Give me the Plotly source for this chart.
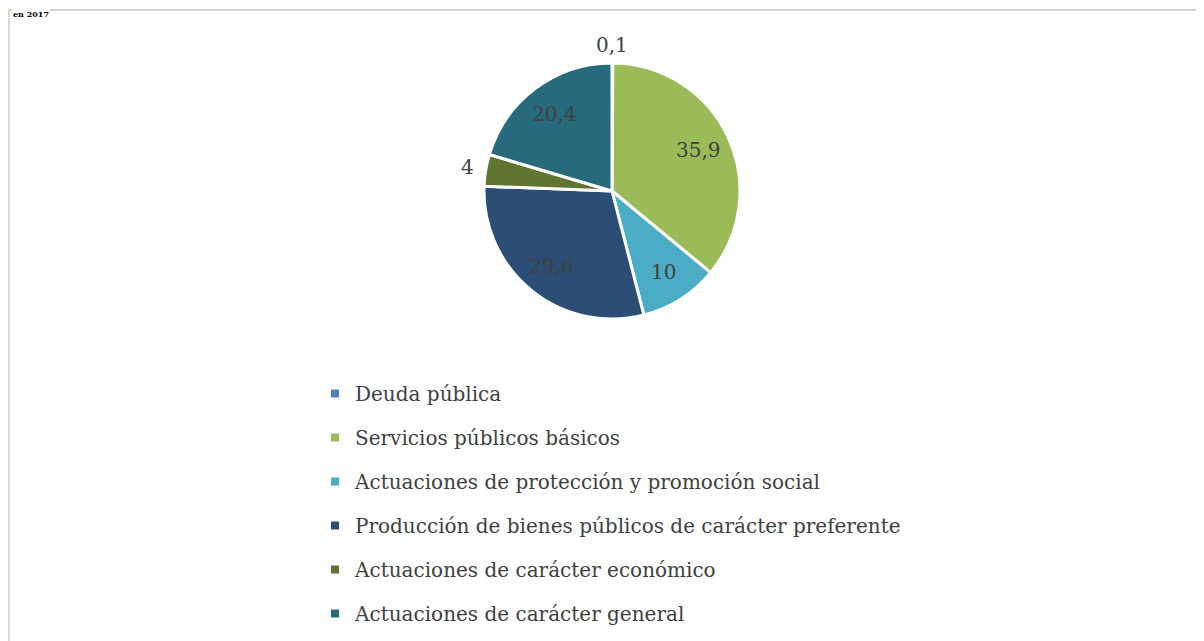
import math
import plotly.graph_objects as go

categories = [
    "Deuda pública",
    "Servicios públicos básicos",
    "Actuaciones de protección y promoción social",
    "Producción de bienes públicos de carácter preferente",
    "Actuaciones de carácter económico",
    "Actuaciones de carácter general",
]
values = [0.1, 35.9, 10, 29.6, 4, 20.4]
value_labels = ["0,1", "35,9", "10", "29,6", "4", "20,4"]
colors = ["#4f81bd", "#9bbb59", "#4bacc6", "#2c4d75", "#5f7530", "#276a7c"]
label_outside = [True, False, False, False, True, False]

W, H = 1204, 641
FONT = "DejaVu Serif"
# page body adds an 8px offset; coordinates below are in figure pixels
cx, cy, r = 604, 183, 128

fig = go.Figure()
fig.add_trace(go.Pie(
    labels=categories,
    values=values,
    sort=False,
    direction="clockwise",
    rotation=0,
    marker=dict(colors=colors, line=dict(color="white", width=3)),
    textinfo="none",
    domain=dict(x=[(cx - r) / W, (cx + r) / W], y=[1 - (cy + r) / H, 1 - (cy - r) / H]),
    showlegend=False,
    hoverinfo="label+value",
))

for i, (c, col) in enumerate(zip(categories, colors)):
    fig.add_trace(go.Scatter(
        x=[None], y=[None], mode="markers", name=c,
        marker=dict(symbol="square", size=8, color=col),
        legendgroup=f"g{i}", showlegend=True,
    ))

# data labels placed at each slice's mid-angle
annotations = []
total = sum(values)
cum = 0.0
for v, lab, outside in zip(values, value_labels, label_outside):
    mid = (cum + v / 2) / total * 2 * math.pi
    cum += v
    d = r + 18 if outside else 0.75 * r
    px = cx + d * math.sin(mid)
    py = cy - d * math.cos(mid)
    annotations.append(dict(
        text=lab, xref="paper", yref="paper", x=px / W, y=1 - py / H,
        xanchor="center", yanchor="middle", showarrow=False,
        font=dict(family=FONT, size=20, color="#404040"),
    ))

annotations.append(dict(
    text="<b>en 2017</b>", xref="paper", yref="paper",
    x=4 / W, y=1.0, xanchor="left", yanchor="top",
    showarrow=False, font=dict(family=FONT, size=8, color="black"),
    borderpad=0, bgcolor="white",
))

fig.update_layout(
    width=W, height=H,
    margin=dict(l=0, r=0, t=0, b=0, autoexpand=False),
    paper_bgcolor="white", plot_bgcolor="white",
    xaxis=dict(visible=False), yaxis=dict(visible=False),
    legend=dict(
        x=307 / W, y=1 - 366 / H, xanchor="left", yanchor="top",
        font=dict(family=FONT, size=20, color="#404040"),
        tracegroupgap=15, itemwidth=30,
        bgcolor="rgba(0,0,0,0)",
    ),
    shapes=[dict(
        type="rect", xref="paper", yref="paper",
        x0=0.8 / W, x1=1.02, y0=-0.02, y1=1 - 2 / H,
        line=dict(color="#d4d4d4", width=1.8), fillcolor="rgba(0,0,0,0)",
    )],
    annotations=annotations,
)

fig.write_html("out.html")
